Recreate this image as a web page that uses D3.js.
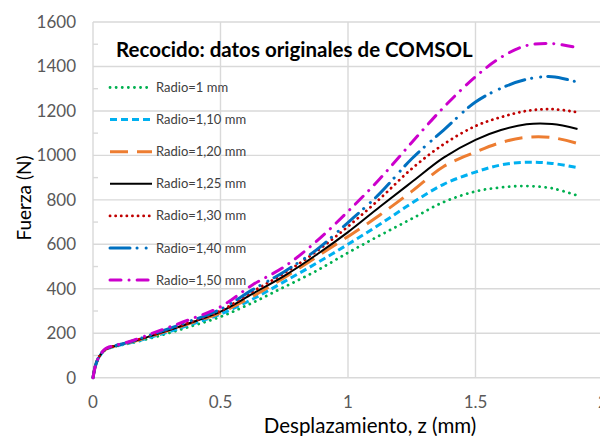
<!DOCTYPE html>
<html>
<head>
<meta charset="utf-8">
<script src="https://cdn.jsdelivr.net/npm/d3@7"></script>
<style>
  body { margin: 0; background: #fff; }
  svg { display: block; font-family: Lato, "Open Sans", sans-serif; }
</style>
</head>
<body>
<script>
// displacement z (mm)
const zValues = [0, 0.01, 0.025, 0.05, 0.1, 0.15, 0.25, 0.375, 0.5, 0.625, 0.75, 0.875, 1, 1.125, 1.25, 1.375, 1.5, 1.6, 1.7, 1.8, 1.9];

// force (N) per radius
const radio100 = [0, 55, 95, 126, 144, 156, 185, 228, 274, 337, 408, 480, 562, 640, 715, 790, 838, 856, 862, 852, 819];
const radio110 = [0, 55, 95, 127, 145, 158, 190, 236, 286, 353, 432, 514, 600, 690, 785, 870, 925, 957, 969, 964, 945];
const radio120 = [0, 56, 96, 128, 146, 160, 195, 242, 292, 365, 450, 542, 635, 732, 838, 950, 1015, 1058, 1081, 1080, 1054];
const radio125 = [0, 56, 96, 128, 147, 161, 196, 244, 297, 377, 458, 552, 655, 769, 880, 990, 1070, 1114, 1140, 1141, 1119];
const radio130 = [0, 56, 96, 129, 147, 162, 198, 247, 301, 387, 470, 567, 680, 805, 940, 1050, 1132, 1172, 1200, 1208, 1194];
const radio140 = [0, 56, 97, 130, 148, 163, 202, 252, 308, 395, 477, 574, 698, 829, 985, 1114, 1240, 1302, 1342, 1354, 1329];
const radio150 = [0, 56, 97, 131, 149, 165, 207, 260, 319, 417, 499, 612, 748, 895, 1058, 1216, 1354, 1441, 1494, 1503, 1484];

const seriesNames = ["Radio=1 mm", "Radio=1,10 mm", "Radio=1,20 mm", "Radio=1,25 mm", "Radio=1,30 mm", "Radio=1,40 mm", "Radio=1,50 mm"];
const seriesValues = [radio100, radio110, radio120, radio125, radio130, radio140, radio150];

const xTicks = [0, 0.5, 1, 1.5, 2];
const yTicks = [0, 200, 400, 600, 800, 1000, 1200, 1400, 1600];

// line look for each series (Excel styles)
const styles = [
  {color: "#00b050", dash: "0.1 6",  width: 2.8, cap: "round"},
  {color: "#00b0f0", dash: "7 4",    width: 3,   cap: "butt"},
  {color: "#ed7d31", dash: "18 9",   width: 3,   cap: "butt"},
  {color: "#000000", dash: null,     width: 2,   cap: "butt"},
  {color: "#c00000", dash: "0.1 5.5", width: 2.8, cap: "round"},
  {color: "#0070c0", dash: "20 7 0.1 9 0.1 7", width: 3, cap: "round"},
  {color: "#cc00cc", dash: "11 8 0.1 8",       width: 3, cap: "round"}
];

const width = 600, height = 436;
const margin = {top: 22, left: 93};
const x = d3.scaleLinear().domain([0, 2]).range([margin.left, 603]);
const y = d3.scaleLinear().domain([0, 1600]).range([377.7, margin.top]);

const svg = d3.select("body").append("svg")
    .attr("width", width)
    .attr("height", height);

        //gridlines
svg.append("g").selectAll("line.h")
    .data(yTicks)
    .enter().append("line")
    .attr("x1", x(0)).attr("x2", x(2))
    .attr("y1", d => y(d)).attr("y2", d => y(d))
    .attr("stroke", "#d9d9d9").attr("stroke-width", 1.4);

svg.append("g").selectAll("line.v")
    .data(xTicks)
    .enter().append("line")
    .attr("x1", d => x(d)).attr("x2", d => x(d))
    .attr("y1", y(0)).attr("y2", y(1600))
    .attr("stroke", "#d9d9d9").attr("stroke-width", 1.4);

        //minor ticks on the value axis
svg.append("g").selectAll("line")
    .data(d3.range(100, 1600, 200))
    .enter().append("line")
    .attr("x1", x(0)).attr("x2", x(0) + 5)
    .attr("y1", d => y(d)).attr("y2", d => y(d))
    .attr("stroke", "#d9d9d9").attr("stroke-width", 1.4);

        //tick labels
svg.append("g").selectAll("text")
    .data(yTicks)
    .enter().append("text")
    .attr("x", 76).attr("y", d => y(d) + 6)
    .attr("text-anchor", "end")
    .attr("fill", "#595959")
    .style("font-size", "17px")
    .text(d => d);

svg.append("g").selectAll("text")
    .data(xTicks)
    .enter().append("text")
    .attr("x", d => x(d)).attr("y", 408)
    .attr("text-anchor", "middle")
    .attr("fill", "#595959")
    .style("font-size", "17px")
    .text(d => d);

        //axis titles
svg.append("text")
    .attr("x", 370).attr("y", 433)
    .attr("text-anchor", "middle")
    .style("font-size", "20.5px")
    .attr("fill", "#000")
    .text("Desplazamiento, z (mm)");

svg.append("text")
    .attr("transform", "translate(31,198) rotate(-90)")
    .attr("text-anchor", "middle")
    .style("font-size", "19px")
    .attr("fill", "#000")
    .text("Fuerza (N)");

        //curves
let line = d3.line()
    .x((d, i) => x(zValues[i]))
    .y(d => y(d))
    .curve(d3.curveCatmullRom.alpha(0.5));

svg.append("g").selectAll("path")
    .data(seriesValues)
    .enter().append("path")
    .attr("d", line)
    .attr("fill", "none")
    .attr("stroke", (d, i) => styles[i].color)
    .attr("stroke-width", (d, i) => styles[i].width)
    .attr("stroke-dasharray", (d, i) => styles[i].dash)
    .attr("stroke-linecap", (d, i) => styles[i].cap);

        //title
svg.append("text")
    .attr("x", 116).attr("y", 57)
    .style("font-size", "20.5px")
    .style("font-weight", "bold")
    .attr("fill", "#000")
    .text("Recocido: datos originales de COMSOL");

        //legend
let legend = svg.append("g").selectAll("g")
    .data(seriesNames)
    .enter().append("g")
    .attr("transform", (d, i) => `translate(110, ${87.5 + i * 32.1})`);

legend.append("line")
    .attr("x1", 0).attr("x2", 42)
    .attr("stroke", (d, i) => styles[i].color)
    .attr("stroke-width", (d, i) => styles[i].width)
    .attr("stroke-dasharray", (d, i) => styles[i].dash)
    .attr("stroke-linecap", (d, i) => styles[i].cap);

legend.append("text")
    .attr("x", 46).attr("y", 4.5)
    .attr("fill", "#404040")
    .style("font-size", "13px")
    .text(d => d);
</script>
</body>
</html>
